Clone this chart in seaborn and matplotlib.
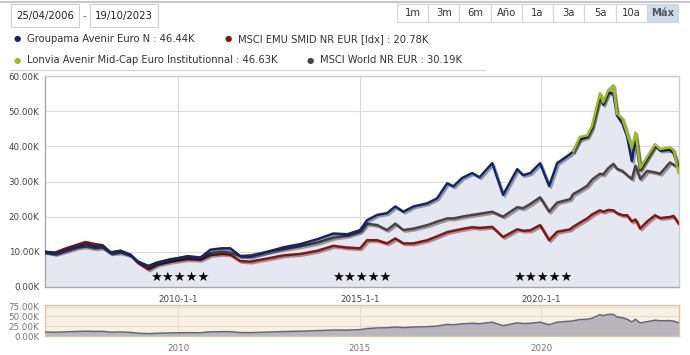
import numpy as np
import pandas as pd
import matplotlib
matplotlib.use("Agg")
import matplotlib.pyplot as plt
import matplotlib.patheffects as path_effects
from matplotlib.patches import Rectangle
import seaborn as sns

# === Data (values in thousands, x in decimal years) ===
dates = [2006.32, 2006.6, 2006.9, 2007.2, 2007.44, 2007.7, 2007.9, 2008.13, 2008.4,
         2008.68, 2008.87, 2009.17, 2009.42, 2009.78, 2010.25, 2010.6, 2010.88,
         2011.2, 2011.43, 2011.7, 2011.98, 2012.45, 2012.9, 2013.36, 2013.83,
         2014.27, 2014.66, 2015.01, 2015.2, 2015.48, 2015.75, 2015.98, 2016.2,
         2016.48, 2016.86, 2017.13, 2017.41, 2017.58, 2017.82, 2018.1, 2018.3,
         2018.65, 2018.95, 2019.34, 2019.5, 2019.7, 2019.97, 2020.22, 2020.44,
         2020.8, 2020.88, 2021.07, 2021.27, 2021.4, 2021.62, 2021.71, 2021.85,
         2021.99, 2022.09, 2022.24, 2022.37, 2022.5, 2022.6, 2022.73, 2022.92,
         2023.14, 2023.28, 2023.55, 2023.65, 2023.79]

groupama = [10.0, 9.6, 10.6, 11.6, 12.2, 11.6, 11.8, 9.8, 10.3,
            9.2, 7.3, 6.0, 7.0, 7.9, 8.6, 8.3, 10.6,
            11.0, 11.0, 8.8, 8.6, 10.0, 11.3, 12.2, 13.6,
            15.2, 15.0, 16.2, 19.0, 20.5, 21.0, 22.9, 21.4,
            22.9, 23.8, 25.2, 29.5, 28.6, 31.0, 32.4, 31.2,
            35.2, 26.2, 33.5, 31.8, 32.4, 35.2, 28.7, 35.2,
            37.8, 38.6, 42.0, 42.6, 45.2, 54.3, 51.8, 55.2,
            55.0, 48.8, 46.5, 42.8, 35.8, 42.5, 33.2, 36.5,
            40.2, 38.8, 39.0, 38.0, 33.8]

msci_emu = [10.0, 9.8, 11.0, 12.0, 12.8, 12.2, 11.9, 9.8, 10.3,
            9.0, 7.0, 5.0, 6.4, 7.2, 7.9, 7.7, 9.1,
            9.4, 9.2, 7.4, 7.2, 8.1, 9.0, 9.4, 10.3,
            11.7, 11.2, 11.0, 13.3, 13.3, 12.4, 13.8, 12.4,
            12.4, 13.3, 14.4, 15.6, 16.0, 16.5, 17.0, 16.8,
            17.1, 14.2, 16.4, 16.0, 16.1, 17.6, 13.3, 15.7,
            16.4, 17.1, 18.3, 19.5, 20.6, 21.8, 21.4, 21.9,
            21.8, 21.0, 20.4, 20.4, 18.6, 19.2, 16.6, 18.6,
            20.4, 19.6, 19.9, 20.2, 18.0]

msci_world = [10.0, 9.4, 10.3, 11.2, 11.5, 11.0, 11.2, 9.6, 9.8,
              9.0, 7.3, 5.6, 6.8, 7.7, 8.8, 8.4, 9.6,
              10.0, 9.8, 8.8, 9.0, 10.0, 10.8, 11.6, 12.6,
              14.0, 14.6, 15.7, 18.0, 17.6, 16.2, 18.0, 16.2,
              16.6, 17.6, 18.6, 19.5, 19.5, 20.0, 20.5, 20.8,
              21.4, 20.0, 22.7, 22.4, 23.6, 25.5, 21.4, 24.0,
              25.0, 26.4, 27.5, 28.8, 30.5, 32.2, 32.0, 33.8,
              35.0, 33.6, 33.0, 31.8, 30.7, 34.5, 30.7, 33.0,
              32.6, 32.2, 35.4, 34.8, 34.0]

lonvia_dates = [2020.88, 2021.07, 2021.27, 2021.4, 2021.62, 2021.71, 2021.85,
                2021.99, 2022.09, 2022.24, 2022.37, 2022.5, 2022.6, 2022.73,
                2022.92, 2023.14, 2023.28, 2023.55, 2023.65, 2023.79]
lonvia = [38.6, 42.7, 43.1, 45.8, 55.1, 52.5, 56.0,
          57.4, 49.3, 47.9, 43.6, 39.5, 43.9, 33.8,
          37.0, 40.6, 39.2, 39.7, 39.0, 32.4]

names = ["Groupama Avenir Euro N", "MSCI EMU SMID NR EUR [Idx]",
         "Lonvia Avenir Mid-Cap Euro Institutionnal", "MSCI World NR EUR"]
legend_values = ["46.44K", "20.78K", "46.63K", "30.19K"]
colors = {names[0]: "#14246b", names[1]: "#8c1111",
          names[2]: "#9dbb1c", names[3]: "#4d4043"}
year_ticks = [2010, 2015, 2020]
y_ticks = [0, 10, 20, 30, 40, 50, 60]
nav_ticks = [0, 25, 50, 75]

df = pd.concat([
    pd.DataFrame({"date": dates, "value": msci_emu, "series": names[1]}),
    pd.DataFrame({"date": dates, "value": msci_world, "series": names[3]}),
    pd.DataFrame({"date": dates, "value": groupama, "series": names[0]}),
    pd.DataFrame({"date": lonvia_dates, "value": lonvia, "series": names[2]}),
], ignore_index=True)

W, H = 690, 355
fig = plt.figure(figsize=(W / 100, H / 100), dpi=100)
plt.rcParams["font.family"] = ["DejaVu Sans"]


def fx(px):
    return px / W


def fy(py):
    return 1 - py / H


# === Header: date boxes, range buttons, legend ===
fig.add_artist(plt.Line2D([0, 1], [fy(2), fy(2)], color="#c8c8c8", lw=1.5))
for x0, label in [(11, "25/04/2006"), (90, "19/10/2023")]:
    fig.add_artist(Rectangle((fx(x0), fy(27)), fx(68), 23 / H, facecolor="white",
                             edgecolor="#cfcfcf", lw=0.8))
    fig.text(fx(x0 + 34), fy(16), label, ha="center", va="center", fontsize=7.3, color="#222")
fig.text(fx(84.5), fy(16), "-", ha="center", va="center", fontsize=7, color="#555")

buttons = ["1m", "3m", "6m", "Año", "1a", "3a", "5a", "10a", "Máx"]
bw = (678 - 397) / len(buttons)
for i, b in enumerate(buttons):
    active = b == "Máx"
    fig.add_artist(Rectangle((fx(397 + i * bw), fy(22)), fx(bw), 18 / H,
                             facecolor="#cfdbe7" if active else "white",
                             edgecolor="#d4d4d4", lw=0.8))
    fig.text(fx(397 + (i + 0.5) * bw), fy(13), b, ha="center", va="center",
             fontsize=7.2, color="#555" if active else "#333",
             fontweight="bold" if active else "normal")

leg_pos = [(17, 39), (228, 39), (17, 60), (310, 60)]
for (lx, ly), name, val in zip(leg_pos, names, legend_values):
    fig.text(fx(lx), fy(ly), "●", ha="center", va="center", fontsize=6, color=colors[name])
    fig.text(fx(lx + 10), fy(ly), f"{name} : {val}", ha="left", va="center",
             fontsize=7.2, color="#333")
fig.add_artist(plt.Line2D([fx(10), fx(485)], [fy(70), fy(70)], color="#d0d0d0", lw=0.8))

# === Main chart ===
ax = fig.add_axes([fx(45), fy(287), fx(679 - 45), (287 - 76) / H])
ax.fill_between(dates, 0, groupama, color="#e5e8f0", zorder=1, lw=0)
ax.fill_between(lonvia_dates, 0, lonvia, color="#e5e8f0", zorder=1, lw=0)

sns.lineplot(data=df, x="date", y="value", hue="series", palette=colors,
             hue_order=[names[1], names[3], names[0], names[2]],
             linewidth=1.8, legend=False, ax=ax, sort=False, zorder=3)
for line in ax.get_lines():
    line.set_path_effects([path_effects.SimpleLineShadow(offset=(1.2, -1.2), alpha=0.35),
                           path_effects.Normal()])

ax.set_xlim(2006.32, 2023.8)
ax.set_ylim(0, 60)
ax.set_yticks(y_ticks)
ax.set_yticklabels([f"{v:.2f}K" for v in y_ticks])
ax.set_xticks(year_ticks)
ax.set_xticklabels([f"{y}-1-1" for y in year_ticks])
ax.tick_params(axis="both", length=0, labelsize=6.3, colors="#444", pad=4)
ax.tick_params(axis="x", pad=6)
ax.grid(True, color="#dadada", lw=0.8, zorder=0)
ax.set_axisbelow(True)
ax.set_xlabel("")
ax.set_ylabel("")
for side, sp in ax.spines.items():
    sp.set_color("#a9a9a9" if side in ("left", "bottom") else "#cccccc")
    sp.set_linewidth(1.0)

for y in year_ticks:
    ax.text(y + 0.05, 2.6, "★★★★★", ha="center", va="center", fontsize=9.5,
            color="black", zorder=4)

# === Navigator ===
nav = fig.add_axes([fx(45), fy(336), fx(679 - 45), (336 - 305) / H])
nav.set_facecolor("#f8f0e2")
nav.fill_between(dates, 0, groupama, color="#b8b6bb", lw=0, zorder=2)
sns.lineplot(x=dates, y=groupama, color="#65657f", linewidth=1.1, ax=nav, zorder=3)
nav.set_xlim(2006.32, 2023.8)
nav.set_ylim(0, 79)
nav.set_yticks(nav_ticks)
nav.set_yticklabels([f"{v:.2f}K" for v in nav_ticks])
nav.set_xticks(year_ticks)
nav.set_xticklabels([str(y) for y in year_ticks])
nav.tick_params(axis="both", length=0, labelsize=6.3, colors="#777", pad=4)
nav.tick_params(axis="x", pad=6)
nav.grid(True, color="#e4dccd", lw=0.7, zorder=0)
nav.set_axisbelow(True)
for sp in nav.spines.values():
    sp.set_color("#d8c6a4")
    sp.set_linewidth(1.0)

fig.savefig("out.png", dpi=100)
